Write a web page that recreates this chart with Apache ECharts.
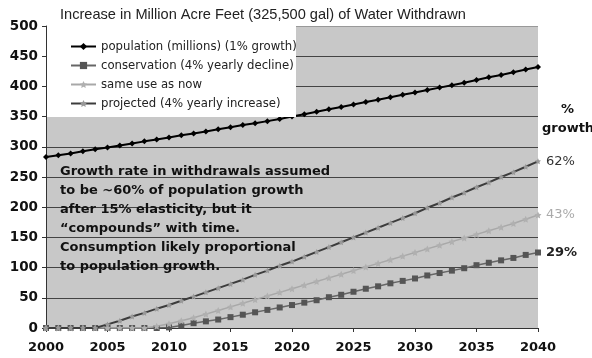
<!DOCTYPE html>
<html>
<head>
<meta charset="utf-8">
<script src="https://cdn.jsdelivr.net/npm/echarts@6/dist/echarts.min.js"></script>
<style>
  html, body { margin: 0; padding: 0; background: #fff; }
  #chart { width: 592px; height: 358px; }
</style>
</head>
<body>
<div id="chart"></div>
<script>
// Years 2000..2040
const years = [];
for (let y = 2000; y <= 2040; y++) years.push(y);

// Million acre feet, one value per year
const population = [283, 286, 289, 292.5, 296, 299, 302, 305.5, 309, 312,
  315.5, 319, 322, 325.5, 329, 332.5, 336, 339, 342.5, 346,
  350, 354, 358, 362, 366, 370, 374, 378, 382, 386,
  390, 394, 398, 402, 406, 410.5, 415, 419, 423.5, 428, 432];

const conservation = [0, 0, 0, 0, 0, 0, 0, 0, 0, 0,
  1, 4, 8, 11, 14, 18, 22, 26, 30, 34,
  38, 42, 46, 51, 55, 60, 65, 69, 74, 78,
  82, 87, 91, 95, 99, 104, 108, 112, 116, 121, 125];

const sameUse = [0, 0, 0, 0, 0, 0, 0, 0, 0, 3,
  7, 12, 17, 23, 29, 35, 41, 47, 53, 59,
  65, 71, 77, 83, 89, 95, 101, 107, 113, 119,
  125, 131, 137, 143, 149, 155, 161, 167, 173, 180, 187];

const projected = [0, 0, 0, 0, 0, 6, 12, 19, 25, 32,
  38, 45, 52, 59, 66, 73, 80, 88, 95, 103,
  110, 118, 126, 134, 142, 150, 158, 166, 174, 182,
  190, 199, 207, 216, 224, 233, 241, 250, 258, 267, 276];

const seriesNames = [
  'population (millions) (1% growth)',
  'conservation (4% yearly decline)',
  'same use as now',
  'projected (4% yearly increase)'
];

const endTags = ['', '29%', '43%', '62%'];

const noteLines = [
  'Growth rate in withdrawals assumed',
  'to be ~60% of population growth',
  'after 15% elasticity, but it',
  '\u201Ccompounds\u201D with time.',
  'Consumption likely proportional',
  'to population growth.'
];

const pairs = vals => years.map((y, i) => [y, vals[i]]);

const STAR = 'path://M0,-10L2.9,-4L9.5,-3.1L4.7,1.5L5.9,8.1L0,5L-5.9,8.1L-4.7,1.5L-9.5,-3.1L-2.9,-4Z';
const FONT = 'DejaVu Sans';

const splitColors = ['#444', '#444', '#444', '#444', '#444', '#444', '#444', '#444', '#444', '#444', '#999'];

const chart = echarts.init(document.getElementById('chart'), null, { renderer: 'canvas' });

chart.setOption({
  animation: false,
  backgroundColor: '#fff',
  title: {
    text: 'Increase in Million Acre Feet (325,500 gal) of Water Withdrawn',
    left: 55,
    top: 2,
    textStyle: { fontFamily: 'Liberation Sans', fontSize: 14.6, fontWeight: 'normal', color: '#222' }
  },
  grid: {
    left: 46, right: 54, top: 26, bottom: 30,
    show: true, backgroundColor: '#c8c8c8', borderWidth: 0
  },
  legend: {
    orient: 'vertical',
    left: 65,
    top: 35,
    itemWidth: 25,
    itemHeight: 9,
    itemGap: 6,
    z: 10,
    textStyle: { fontFamily: FONT, fontSize: 11.7, color: '#222', lineHeight: 13 },
    data: seriesNames
  },
  xAxis: {
    type: 'value',
    min: 2000, max: 2040, interval: 5,
    axisLine: { lineStyle: { color: '#333', width: 1 } },
    axisTick: { show: true, length: 4, lineStyle: { color: '#333' } },
    splitLine: { show: false },
    axisLabel: {
      fontFamily: FONT, fontWeight: 'bold', fontSize: 13, color: '#111', margin: 13,
      formatter: v => String(v)
    }
  },
  yAxis: {
    type: 'value',
    min: 0, max: 500, interval: 50,
    axisLine: { show: true, lineStyle: { color: '#333', width: 1 } },
    axisTick: { show: true, length: 4, lineStyle: { color: '#333' } },
    splitLine: { show: true, lineStyle: { color: splitColors, width: 1 } },
    axisLabel: { fontFamily: FONT, fontWeight: 'bold', fontSize: 13.5, color: '#111', margin: 8 }
  },
  graphic: [
    {
      type: 'rect', z: 5,
      shape: { x: 47, y: 26, width: 249, height: 91 },
      style: { fill: '#fff', stroke: null }
    },
    {
      type: 'text', z: 6, left: 561, top: 103,
      style: { text: '%', font: 'bold 13px "DejaVu Sans"', fill: '#111' }
    },
    {
      type: 'text', z: 6, left: 542, top: 122,
      style: { text: 'growth', font: 'bold 13px "DejaVu Sans"', fill: '#111' }
    },
    {
      type: 'text', z: 6, left: 60, top: 162,
      style: {
        text: noteLines.join('\n'),
        font: 'bold 13px "DejaVu Sans"',
        lineHeight: 19,
        fill: '#111'
      }
    }
  ],
  series: [
    {
      name: seriesNames[0], type: 'line', data: pairs(population), z: 3,
      symbol: 'diamond', symbolSize: 6,
      lineStyle: { color: '#000', width: 2 },
      itemStyle: { color: '#000' }
    },
    {
      name: seriesNames[1], type: 'line', data: pairs(conservation), z: 3,
      symbol: 'rect', symbolSize: 6,
      lineStyle: { color: '#666', width: 1.5 },
      itemStyle: { color: '#555' },
      endLabel: {
        show: true, formatter: endTags[1], distance: 8,
        fontFamily: FONT, fontWeight: 'bold', fontSize: 13, color: '#222'
      }
    },
    {
      name: seriesNames[2], type: 'line', data: pairs(sameUse), z: 3,
      symbol: STAR, symbolSize: 7,
      lineStyle: { color: '#a8a8a8', width: 1.5 },
      itemStyle: { color: '#b0b0b0' },
      endLabel: {
        show: true, formatter: endTags[2], distance: 8,
        fontFamily: FONT, fontSize: 13, color: '#aaa'
      }
    },
    {
      name: seriesNames[3], type: 'line', data: pairs(projected), z: 4,
      symbol: STAR, symbolSize: 6,
      lineStyle: { color: '#3c3c3c', width: 2 },
      itemStyle: { color: '#999' },
      endLabel: {
        show: true, formatter: endTags[3], distance: 8,
        fontFamily: FONT, fontSize: 13, color: '#333'
      }
    }
  ]
});
</script>
</body>
</html>
